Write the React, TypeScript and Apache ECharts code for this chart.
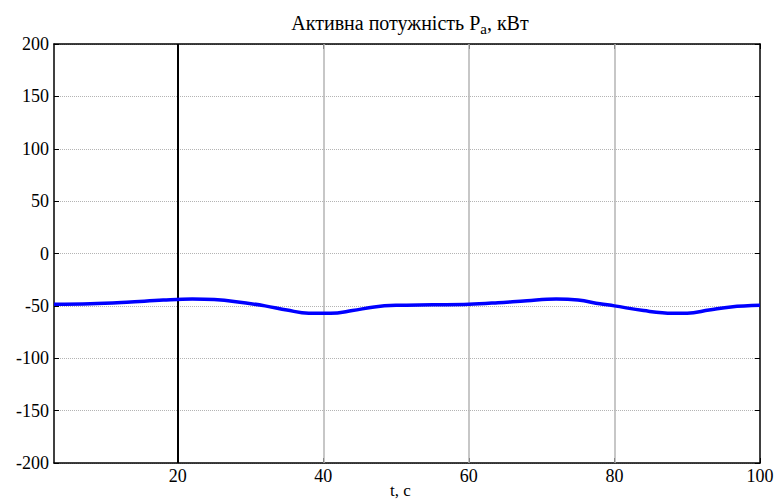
import React, { useEffect, useRef } from "react";
import * as echarts from "echarts";

const tValues = [3, 8, 13, 18, 22, 25, 28, 32, 35, 38, 41, 44, 47, 50, 55, 60, 64, 68, 72, 75, 78, 80, 84, 88, 90, 93, 96, 100];
const powerValues = [-48.5, -48, -46.5, -44.5, -43.5, -44, -46, -50, -54, -57, -57, -54.5, -51, -49.5, -49, -48.5, -47, -45, -43.5, -44.5, -48, -50, -54.5, -57, -57, -54, -51, -49.5];
const xTicks = [20, 40, 60, 80, 100];
const xGridLines = [40, 60, 80];
const markerLine = 20;
const titleMain = "Активна потужність P";
const titleSub = "a";
const titleTail = ", кВт";
const xName = "t, c";

const FONT = "serif";

export default function App() {
  const ref = useRef<HTMLDivElement>(null);
  useEffect(() => {
    if (!ref.current) return;
    const chart = echarts.init(ref.current, null, { renderer: "svg" });
    const data = tValues.map((t, i) => [t, powerValues[i]]);
    chart.setOption({
      animation: false,
      backgroundColor: "#fff",
      textStyle: { fontFamily: FONT },
      title: {
        text: `{m|${titleMain}}{s|${titleSub}}{m|${titleTail}}`,
        left: 405,
        textAlign: "center",
        top: 5,
        textStyle: {
          fontFamily: FONT,
          fontWeight: "normal",
          rich: {
            m: { fontFamily: FONT, fontSize: 20, color: "#000", fontWeight: "normal" },
            s: { fontFamily: FONT, fontSize: 15, color: "#000", fontWeight: "normal", padding: [11, 0, 0, 0] },
          },
        },
      },
      graphic: [
        {
          type: "text",
          left: 390,
          top: 482,
          style: { text: xName, font: `17px ${FONT}`, fill: "#000" },
        },
      ],
      grid: { left: 54, right: 18, top: 44, bottom: 36, containLabel: false },
      xAxis: [
        {
          type: "value",
          min: 3,
          max: 100,
          axisLine: { show: true, onZero: false, lineStyle: { color: "#000", width: 1.5 } },
          axisTick: { show: true, inside: true, length: 5, customValues: xTicks, lineStyle: { color: "#000" } },
          axisLabel: { customValues: xTicks, color: "#000", fontFamily: FONT, fontSize: 18, margin: 4 },
          splitLine: { show: false },
        },
        {
          type: "value",
          position: "top",
          min: 3,
          max: 100,
          axisLine: { show: true, onZero: false, lineStyle: { color: "#000", width: 1.5 } },
          axisTick: { show: true, inside: true, length: 5, customValues: xTicks, lineStyle: { color: "#000" } },
          axisLabel: { show: false },
          splitLine: { show: false },
        },
      ],
      yAxis: [
        {
          type: "value",
          min: -200,
          max: 200,
          interval: 50,
          axisLine: { show: true, onZero: false, lineStyle: { color: "#000", width: 1.5 } },
          axisTick: { show: true, inside: true, length: 5, lineStyle: { color: "#000" } },
          axisLabel: { color: "#000", fontFamily: FONT, fontSize: 18, margin: 5 },
          splitLine: { show: true, lineStyle: { color: "#b4b4b4", type: [1, 1], width: 1 } },
        },
        {
          type: "value",
          position: "right",
          min: -200,
          max: 200,
          interval: 50,
          axisLine: { show: true, onZero: false, lineStyle: { color: "#000", width: 1.5 } },
          axisTick: { show: true, inside: true, length: 5, lineStyle: { color: "#000" } },
          axisLabel: { show: false },
          splitLine: { show: false },
        },
      ],
      series: [
        {
          type: "line",
          data,
          smooth: 0.4,
          showSymbol: false,
          symbol: "none",
          lineStyle: { color: "#0000ff", width: 3.5 },
          z: 5,
          markLine: {
            silent: true,
            symbol: "none",
            label: { show: false },
            data: [
              ...xGridLines.map((v) => ({ xAxis: v, lineStyle: { color: "#b4b4b4", width: 1.5, type: "solid" } })),
              { xAxis: markerLine, lineStyle: { color: "#000", width: 2, type: "solid" } },
            ],
          },
        },
      ],
    });
    return () => chart.dispose();
  }, []);
  return <div ref={ref} style={{ width: 778, height: 499, position: "absolute", left: 0, top: 0 }} />;
}
